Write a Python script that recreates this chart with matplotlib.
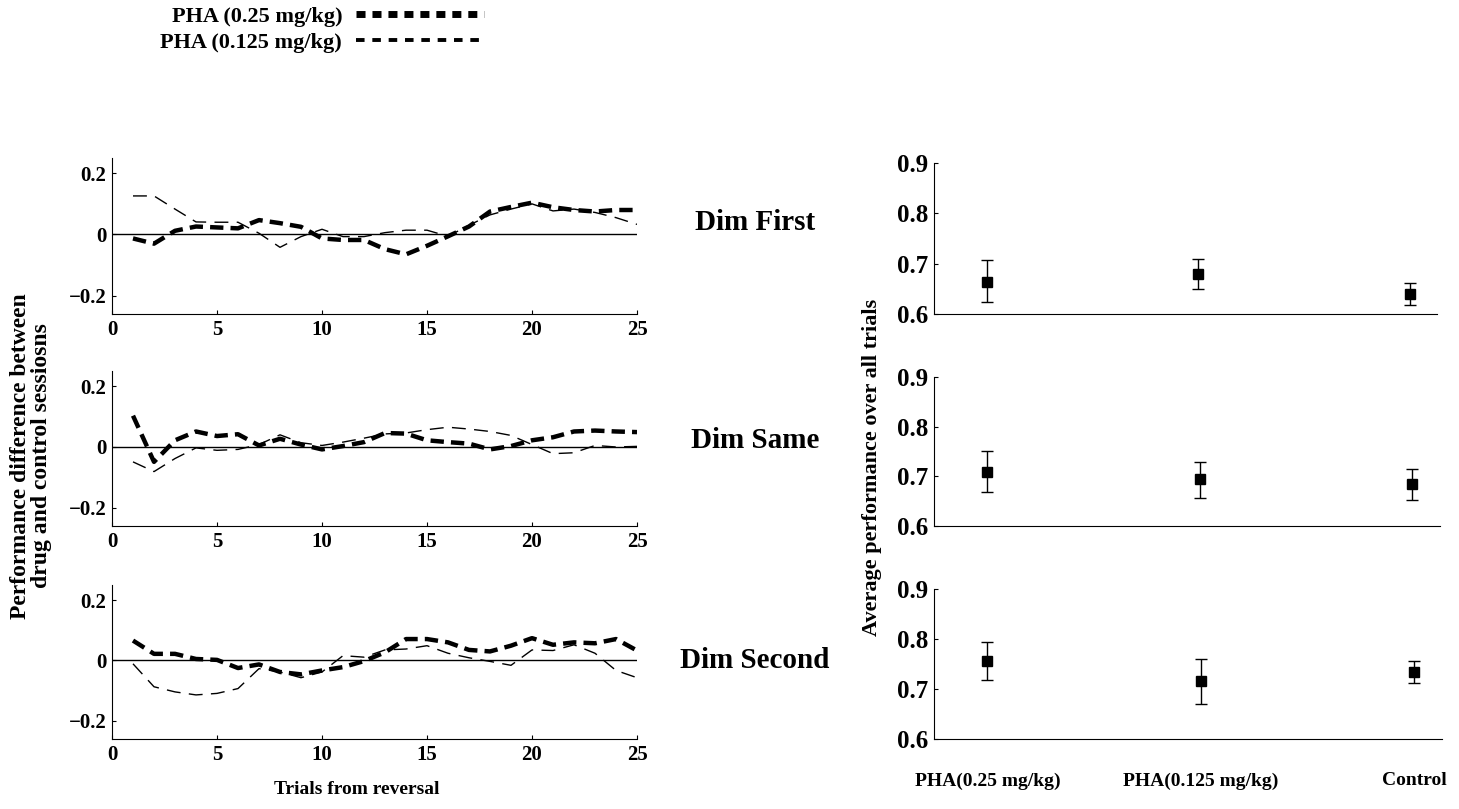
import matplotlib
matplotlib.use('Agg')
import matplotlib.pyplot as plt
from matplotlib.lines import Line2D

plt.rcParams['font.family'] = ['Liberation Serif', 'DejaVu Serif']
plt.rcParams['font.weight'] = 'bold'
plt.rcParams['axes.labelweight'] = 'bold'

# ---------------- data ----------------
trials = list(range(1, 26))

first_high = [-0.013, -0.030, 0.012, 0.026, 0.023, 0.020, 0.047, 0.037, 0.025, -0.013,
              -0.018, -0.018, -0.048, -0.065, -0.037, -0.006, 0.026, 0.075, 0.090, 0.104,
              0.089, 0.080, 0.075, 0.080, 0.080]
first_low = [0.126, 0.126, 0.083, 0.041, 0.040, 0.040, 0.004, -0.042, -0.007, 0.017,
             -0.007, -0.007, 0.006, 0.014, 0.014, -0.006, 0.030, 0.064, 0.083, 0.100,
             0.077, 0.083, 0.072, 0.055, 0.033]

same_high = [0.103, -0.049, 0.022, 0.051, 0.036, 0.042, 0.005, 0.027, 0.008, -0.008,
             0.003, 0.016, 0.046, 0.044, 0.022, 0.016, 0.011, -0.008, 0.003, 0.022,
             0.032, 0.051, 0.054, 0.051, 0.049]
same_low = [-0.049, -0.081, -0.038, -0.003, -0.011, -0.008, 0.008, 0.040, 0.014, 0.005,
            0.016, 0.029, 0.043, 0.046, 0.057, 0.065, 0.059, 0.051, 0.038, 0.008,
            -0.022, -0.019, 0.005, 0.000, 0.002]

second_high = [0.066, 0.022, 0.022, 0.005, 0.002, -0.025, -0.013, -0.038, -0.046, -0.033,
               -0.022, -0.002, 0.027, 0.071, 0.071, 0.060, 0.035, 0.030, 0.049, 0.074,
               0.052, 0.060, 0.057, 0.071, 0.033]
second_low = [-0.011, -0.087, -0.104, -0.114, -0.109, -0.093, -0.027, -0.038, -0.057, -0.038,
              0.016, 0.011, 0.035, 0.038, 0.049, 0.024, 0.009, -0.003, -0.016, 0.035,
              0.033, 0.052, 0.024, -0.033, -0.057]

conditions = ["Dim First", "Dim Same", "Dim Second"]
series_labels = ["PHA (0.25 mg/kg)", "PHA (0.125 mg/kg)"]

categories = ["PHA(0.25 mg/kg)", "PHA(0.125 mg/kg)", "Control"]
cat_pos = [1, 2, 3]
first_mean = [0.664, 0.680, 0.640]
first_lo = [0.624, 0.650, 0.618]
first_hi = [0.707, 0.709, 0.662]
same_mean = [0.709, 0.695, 0.684]
same_lo = [0.668, 0.656, 0.652]
same_hi = [0.751, 0.729, 0.715]
second_mean = [0.756, 0.716, 0.734]
second_lo = [0.718, 0.670, 0.712]
second_hi = [0.794, 0.760, 0.756]

left_ticks_x = [0, 5, 10, 15, 20, 25]
left_ticks_y = [-0.2, 0, 0.2]
right_ticks_y = [0.6, 0.7, 0.8, 0.9]

# ---------------- figure ----------------
fig = plt.figure(figsize=(14.59, 8.09), dpi=100)

W, H = 1459.0, 809.0
left_boxes = [(112, 158, 637, 314), (112, 371, 637, 526), (112, 585, 637, 739)]
right_boxes = [(934, 163, 1437, 314), (934, 377, 1440, 526), (934, 589, 1442, 739)]
label_y = [222, 440, 661]

high_sets = [first_high, same_high, second_high]
low_sets = [first_low, same_low, second_low]
means = [first_mean, same_mean, second_mean]
los = [first_lo, same_lo, second_lo]
his = [first_hi, same_hi, second_hi]

def frac(box):
    x0, y0, x1, y1 = box
    return [x0 / W, 1 - y1 / H, (x1 - x0) / W, (y1 - y0) / H]

for i in range(3):
    ax = fig.add_axes(frac(left_boxes[i]))
    ax.plot(trials, high_sets[i], color='black', lw=3.2, dashes=(3.0, 1.6),
            solid_capstyle='butt', dash_capstyle='butt')
    ax.plot(trials, low_sets[i], color='black', lw=1.0, dashes=(10, 6))
    ax.axhline(0, color='black', lw=1.0)
    ax.set_xlim(0, 25)
    ax.set_ylim(-0.26, 0.25)
    ax.set_xticks(left_ticks_x)
    ax.set_yticks(left_ticks_y)
    ax.set_yticklabels(['\u22120.2', '0', '0.2'])
    for s in ['top', 'right']:
        ax.spines[s].set_visible(False)
    ax.tick_params(direction='in', length=3, width=0.8, labelsize=15, pad=4)
    for lab in ax.get_xticklabels() + ax.get_yticklabels():
        lab.set_fontweight('bold')
    fig.text(755 / W, 1 - label_y[i] / H, conditions[i], fontsize=21,
             fontweight='bold', ha='center', va='center')

    axr = fig.add_axes(frac(right_boxes[i]))
    yerr = [[m - l for m, l in zip(means[i], los[i])],
            [h - m for m, h in zip(means[i], his[i])]]
    axr.errorbar(cat_pos, means[i], yerr=yerr, fmt='s', color='black',
                 ecolor='black', elinewidth=1.0, capsize=4, capthick=1.0,
                 markersize=7.5)
    axr.set_xlim(0.75, 3.13)
    axr.set_ylim(0.6, 0.9)
    axr.set_yticks(right_ticks_y)
    axr.set_yticklabels(['0.6', '0.7', '0.8', '0.9'])
    for s in ['top', 'right']:
        axr.spines[s].set_visible(False)
    axr.tick_params(axis='y', direction='in', length=3, width=0.8, labelsize=18, pad=4)
    axr.set_xticks(cat_pos)
    if i == 2:
        axr.set_xticklabels(categories, fontsize=14, fontweight='bold')
        axr.tick_params(axis='x', length=0, pad=24)
    else:
        axr.set_xticklabels([])
        axr.tick_params(axis='x', length=0)
    for lab in axr.get_yticklabels():
        lab.set_fontweight('bold')

fig.text(31 / W, 1 - 456 / H,
         "Performance difference between\ndrug and control sessiosns",
         rotation=90, ha='center', va='center', fontsize=17, fontweight='bold',
         multialignment='center', linespacing=1.0)
fig.text(357 / W, 1 - 790 / H, "Trials from reversal", ha='center', va='center',
         fontsize=14, fontweight='bold')
fig.text(872 / W, 1 - 467 / H, "Average performance over all trials", rotation=90,
         ha='center', va='center', fontsize=16, fontweight='bold')

handles = [Line2D([], [], color='black', lw=5, dashes=(1.3, 1.0), dash_capstyle='butt'),
           Line2D([], [], color='black', lw=2.8, dashes=(2.2, 2.0), dash_capstyle='butt')]
fig.legend(handles, series_labels, loc='upper left', bbox_to_anchor=(156 / W, 1 - 2 / H),
           frameon=False, markerfirst=False, handlelength=5.8, handletextpad=0.6,
           prop={'weight': 'bold', 'size': 16}, labelspacing=0.25,
           borderaxespad=0, borderpad=0.2)

fig.savefig('out.png', dpi=100)
